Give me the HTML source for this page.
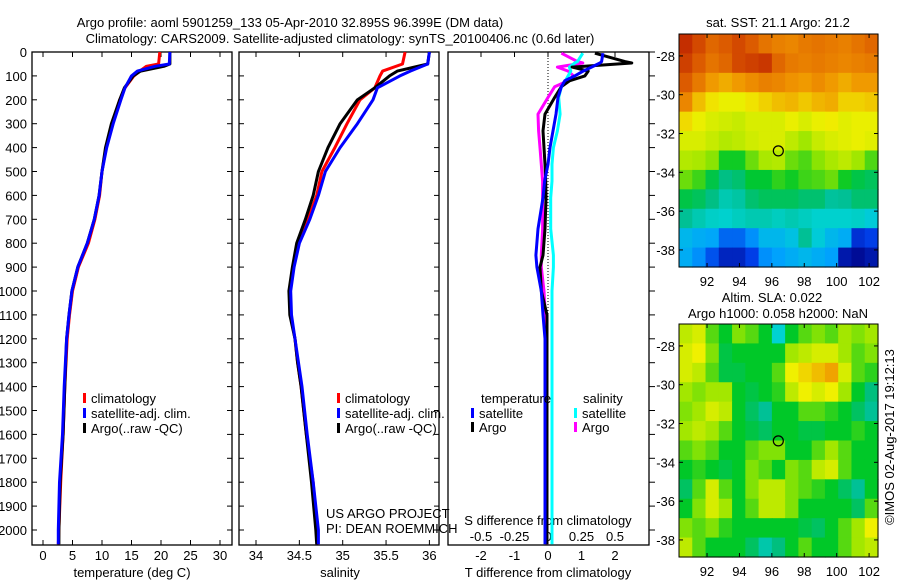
<!DOCTYPE html>
<html><head><meta charset="utf-8"><style>
html,body{margin:0;padding:0;background:#fff;}
svg{display:block;font-family:"Liberation Sans",sans-serif;}
text{font-size:13px;fill:#000;}
</style></head><body>
<svg id="fig" width="900" height="580" xmlns="http://www.w3.org/2000/svg">
<defs>
<clipPath id="c1"><rect x="32" y="52" width="200" height="493"/></clipPath>
<clipPath id="c2"><rect x="239" y="52" width="200" height="493"/></clipPath>
<clipPath id="c3"><rect x="448" y="52" width="201" height="493"/></clipPath>
</defs>
<text x="290" y="27" text-anchor="middle">Argo profile: aoml 5901259_133 05-Apr-2010 32.895S 96.399E (DM data)</text>
<text x="340" y="43" text-anchor="middle">Climatology: CARS2009. Satellite-adjusted climatology: synTS_20100406.nc (0.6d later)</text>
<g id="g1"></g>
<g id="g2"></g>
<g id="g3"></g>
<g id="m1"></g>
<g id="m2"></g>
</svg>
<script>
// ---- profile data ----
const tDepth = [0,50,60,80,100,150,200,300,400,500,600,700,800,900,1000,1100,1200,1400,1600,1800,2000,2060];
const tClim  = [19.8,19.6,17.5,16.4,15.4,13.9,13.0,11.7,10.7,10.0,9.6,8.8,7.7,6.0,5.0,4.5,4.1,3.7,3.4,3.0,2.7,2.6];
const tSat   = [21.5,21.4,19.0,16.0,15.0,13.9,13.2,11.9,10.8,10.0,9.5,8.7,7.5,5.9,4.9,4.4,4.0,3.6,3.3,2.8,2.6,2.6];
const tArgo  = [21.5,21.5,20.5,16.5,15.3,13.8,13.0,11.6,10.6,10.0,9.5,8.7,7.5,5.9,4.9,4.4,4.0,3.7,3.4,2.9,2.7,2.7];
const sDepth = [0,50,80,100,150,200,300,400,500,600,700,800,900,1000,1100,1200,1300,1400,1600,1800,2000,2060];
const sClim  = [35.72,35.69,35.46,35.43,35.37,35.20,35.05,34.91,34.76,34.70,34.60,34.48,34.43,34.39,34.40,34.45,34.48,34.52,34.58,34.66,34.70,34.71];
const sSat   = [36.00,35.98,35.78,35.66,35.40,35.35,35.17,34.97,34.80,34.72,34.62,34.50,34.44,34.40,34.41,34.45,34.49,34.53,34.59,34.66,34.72,34.72];
const sArgo  = [36.00,35.98,35.63,35.54,35.37,35.17,34.97,34.83,34.72,34.66,34.57,34.47,34.42,34.38,34.39,34.45,34.48,34.52,34.58,34.64,34.69,34.70];
const dDepth = [5,40,46,63,80,100,120,145,190,260,330,400,470,540,610,740,850,900,1000,1100,1200,1500,2000,2060];
const dTSat  = [1.64,1.6,1.55,1.3,1.05,0.8,0.5,0.4,0.3,0.24,0.15,0.06,0.0,-0.1,-0.15,-0.3,-0.36,-0.33,-0.2,-0.15,-0.09,-0.09,-0.09,-0.09];
const dTArgo = [1.4,2.3,2.5,0.72,1.2,1.1,0.65,0.4,0.2,-0.09,-0.15,-0.12,-0.09,-0.07,-0.06,-0.09,-0.15,-0.24,-0.2,-0.03,-0.03,-0.03,-0.03,-0.03];
const dSSat  = [0.26,0.22,0.2,0.16,0.17,0.15,0.13,0.1,0.08,0.09,0.07,0.04,0.03,0.03,0.02,0.02,0.04,0.04,0.03,0.03,0.03,0.03,0.03,0.03];
const dSArgo = [0.1,0.22,0.26,0.07,0.15,0.19,0.15,0.05,0.0,-0.075,-0.07,-0.06,-0.05,-0.04,-0.04,-0.04,-0.05,-0.05,-0.03,-0.02,-0.02,-0.01,-0.01,-0.01];
const depthTicks = [0,100,200,300,400,500,600,700,800,900,1000,1100,1200,1300,1400,1500,1600,1700,1800,1900,2000];
const tTicks = [0,5,10,15,20,25,30];
const sTicks = [34,34.5,35,35.5,36];
const sTickLabels = ["34","34.5","35","35.5","36"];
const dtTicks = [-2,-1,0,1,2];
const dsTicks = [-0.5,-0.25,0,0.25,0.5];
// ---- map data ----
const lonTicks = [92,94,96,98,100,102];
const latTicks = [-28,-30,-32,-34,-36,-38];
const sstGrid = [
[23.5,23.2,22.8,23,23.2,23,22.6,22.4,22.3,22.5,22.6,22.5,22.4,22.6,22.8],
[23.3,23,22.6,22.8,23.2,23.3,23.4,22.8,22.5,22.4,22.5,22.4,22.3,22.4,22.5],
[23,22.5,22,21.8,22,22.2,22.4,22.3,22.1,22,22.2,22,21.8,22,22],
[22.3,21.6,21.2,21,21,21.2,21.4,21.6,21.7,21.5,21.7,21.8,21.4,21.4,21.5],
[21.3,21,20.8,20.7,20.6,20.8,20.8,20.8,21,20.8,21,21.1,20.9,21,21],
[20.8,20.8,20.6,20.4,20.5,20.7,20.8,20.8,20.5,20.2,20.6,20.8,20.9,21,20.9],
[20.4,20.3,20,19.2,19.2,19.8,20.3,20.4,19.8,19.6,20,20.3,20.5,20.2,19.6],
[19.8,19.5,18.8,18.2,18.4,19,19,19.4,19.2,19.5,19.6,19.8,19.2,18.8,18.6],
[18.8,18.6,18.2,17.6,17.8,18.4,18.6,18.6,18.6,18.4,18.4,17.9,18,18.4,18.4],
[18,17.6,17.3,17.2,17.4,17.6,17.6,17.4,17.6,17.4,17.2,17.2,17.2,17.3,17],
[16.6,16.4,16.3,15.6,15.6,16,16.6,16.6,16.8,18,17,16.6,16.4,15,15.2],
[16.4,16,15.4,14.8,14.8,15.2,16,16.2,16.4,16.6,16.4,16.2,14.6,14.4,14.6]];
const slaGrid = [
[0.05,0.06,0.02,0.0,0.03,0.02,0.0,-0.07,0.0,0.02,0.03,0.02,0.04,0.03,0.04],
[0.06,0.07,0.03,-0.01,0.0,0.0,0.0,0.0,0.04,0.05,0.06,0.06,0.04,0.02,0.03],
[0.06,0.05,0.02,-0.01,-0.01,0.0,0.0,0.02,0.07,0.08,0.09,0.1,0.06,0.02,0.01],
[0.04,0.03,0.04,0.04,0.0,-0.01,0.0,0.01,0.05,0.07,0.06,0.07,0.04,0.0,-0.03],
[0.03,0.04,0.06,0.05,0.0,-0.02,-0.04,0.0,0.0,0.02,0.02,0.01,0.0,-0.02,-0.04],
[0.04,0.05,0.04,0.02,0.0,-0.01,-0.02,0.0,0.0,-0.01,-0.01,0.0,0.0,0.01,0.0],
[0.02,0.03,0.02,0.0,0.0,0.02,0.03,0.03,0.0,0.0,0.02,0.04,0.02,0.0,0.0],
[0.0,0.01,0.0,-0.01,0.0,0.03,0.02,0.0,0.03,0.02,0.05,0.06,0.02,0.0,0.0],
[-0.02,0.02,0.06,0.02,0.0,0.03,0.05,0.05,0.03,0.02,0.01,0.0,-0.02,-0.04,0.0],
[0.0,0.03,0.06,0.04,0.0,0.02,0.05,0.05,0.03,0.0,0.0,0.0,0.0,-0.02,0.02],
[0.03,0.02,0.03,0.01,0.0,0.0,0.0,0.0,0.0,-0.01,-0.02,0.0,0.02,0.04,0.07],
[0.05,0.02,0.0,0.0,0.0,-0.02,-0.05,-0.03,0.0,0.02,0.0,0.0,0.02,0.04,0.05]];
const floatLon = 96.399, floatLat = -32.895;

const NS="http://www.w3.org/2000/svg";
function mk(parent, tag, attrs, txt){const e=document.createElementNS(NS,tag);for(const k in attrs)e.setAttribute(k,attrs[k]);if(txt!==undefined)e.textContent=txt;parent.appendChild(e);return e;}
const TOP=52, BOT=545;
const yD = d => 52 + d*0.239;
const xT = t => 43 + t*5.9;
const xS = s => 256 + (s-34)*86.7;
const xdT = v => 548 + v*33.5;
const xdS = v => 548 + v*134;

function frame(g, x0, x1){
  const r=mk(g,'rect',{x:x0,y:TOP,width:x1-x0,height:BOT-TOP,fill:'none',stroke:'#000','stroke-width':1.3});
  
  
  depthTicks.forEach(d=>{const y=yD(d);
    mk(g,'line',{x1:x0,x2:x0+5,y1:y,y2:y,stroke:'#000'});
    mk(g,'line',{x1:x1,x2:x1-5,y1:y,y2:y,stroke:'#000'});});
}
function line(g, clip, xs, ys, fx, color, name){
  const pts = xs.map((v,i)=>fx(v).toFixed(1)+','+yD(ys[i]).toFixed(1)).join(' ');
  const p=mk(g,'polyline',{points:pts,fill:'none',stroke:color,'stroke-width':3,'clip-path':'url(#'+clip+')','stroke-linejoin':'round'});
  
  
}
function legend(g, x, y, color, label, name){
  mk(g,'rect',{x:x,y:y-5,width:3,height:10,fill:color});
  const t=mk(g,'text',{x:x+8,y:y+5},label);
  
  
}
// Panel 1
const g1=document.getElementById('g1');
frame(g1,32,232);
depthTicks.forEach(d=>{const t=mk(g1,'text',{x:27,y:yD(d)+5,'text-anchor':'end'},String(d));
  
  });
tTicks.forEach(v=>{const x=xT(v);mk(g1,'line',{x1:x,x2:x,y1:BOT,y2:BOT-5,stroke:'#000'});mk(g1,'line',{x1:x,x2:x,y1:TOP,y2:TOP+5,stroke:'#000'});
  const t=mk(g1,'text',{x:x,y:560,'text-anchor':'middle'},String(v));
  
  });
mk(g1,'text',{x:132,y:577,'text-anchor':'middle',},'temperature (deg C)');
line(g1,'c1',tClim,tDepth,xT,'#f00','temp-climatology-line');
line(g1,'c1',tArgo,tDepth,xT,'#000','temp-argo-line');
line(g1,'c1',tSat,tDepth,xT,'#00f','temp-satellite-line');
legend(g1,83,398,'#f00','climatology','legend-climatology');
legend(g1,83,413,'#00f','satellite-adj. clim.','legend-satellite');
legend(g1,83,428,'#000','Argo(..raw -QC)','legend-argo');
// Panel 2
const g2=document.getElementById('g2');
frame(g2,239,439);
sTicks.forEach((v,i)=>{const x=xS(v);mk(g2,'line',{x1:x,x2:x,y1:BOT,y2:BOT-5,stroke:'#000'});mk(g2,'line',{x1:x,x2:x,y1:TOP,y2:TOP+5,stroke:'#000'});
  const t=mk(g2,'text',{x:x,y:560,'text-anchor':'middle'},sTickLabels[i]);
  
  });
mk(g2,'text',{x:340,y:577,'text-anchor':'middle',},'salinity');
line(g2,'c2',sClim,sDepth,xS,'#f00','sal-climatology-line');
line(g2,'c2',sArgo,sDepth,xS,'#000','sal-argo-line');
line(g2,'c2',sSat,sDepth,xS,'#00f','sal-satellite-line');
legend(g2,337,398,'#f00','climatology','legend-climatology-2');
legend(g2,337,413,'#00f','satellite-adj. clim.','legend-satellite-2');
legend(g2,337,428,'#000','Argo(..raw -QC)','legend-argo-2');
mk(g2,'text',{x:326,y:518,},'US ARGO PROJECT');
mk(g2,'text',{x:326,y:533,},'PI: DEAN ROEMMICH');
// Panel 3
const g3=document.getElementById('g3');
mk(g3,'rect',{x:448,y:TOP,width:201,height:BOT-TOP,fill:'none',stroke:'#000','stroke-width':1.3});
depthTicks.forEach(d=>{const y=yD(d);mk(g3,'line',{x1:649,x2:655,y1:y,y2:y,stroke:'#000'});});
dtTicks.forEach(v=>{const x=xdT(v);mk(g3,'line',{x1:x,x2:x,y1:TOP,y2:TOP+5,stroke:'#000'});
  const t=mk(g3,'text',{x:x,y:560,'text-anchor':'middle'},String(v));
  
  });
dsTicks.forEach(v=>{const t=mk(g3,'text',{x:xdS(v),y:541,'text-anchor':'middle'},String(v));
  
  });
mk(g3,'line',{x1:548,x2:548,y1:TOP,y2:400,stroke:'#000','stroke-dasharray':'1,2'});
mk(g3,'text',{x:548,y:525,'text-anchor':'middle',},'S difference from climatology');
mk(g3,'text',{x:548,y:577,'text-anchor':'middle',},'T difference from climatology');
line(g3,'c3',dSArgo,dDepth,xdS,'#f0f','sdiff-argo-line');
line(g3,'c3',dSSat,dDepth,xdS,'#0ff','sdiff-satellite-line');
line(g3,'c3',dTArgo,dDepth,xdT,'#000','tdiff-argo-line');
line(g3,'c3',dTSat,dDepth,xdT,'#00f','tdiff-satellite-line');
mk(g3,'text',{x:481,y:403,},'temperature');
mk(g3,'text',{x:583,y:403,},'salinity');
legend(g3,471,413,'#00f','satellite','legend-t-satellite');
legend(g3,471,427,'#000','Argo','legend-t-argo');
legend(g3,574,413,'#0ff','satellite','legend-s-satellite');
legend(g3,574,427,'#f0f','Argo','legend-s-argo');
// Maps
const cmapStops=[[0,0,130],[0,60,230],[0,160,255],[0,210,210],[0,190,140],[0,200,40],[150,230,0],[240,240,0],[240,150,0],[220,90,0],[170,0,0]];
function cmap(t){t=Math.max(0,Math.min(1,t));const f=t*(cmapStops.length-1);const i=Math.min(cmapStops.length-2,Math.floor(f));const u=f-i;
  const a=cmapStops[i],b=cmapStops[i+1];return 'rgb('+[0,1,2].map(k=>Math.round(a[k]+(b[k]-a[k])*u)).join(',')+')';}
const LON0=90.27, LON1=102.55, LAT0=-26.87, LAT1=-38.88;
function drawMap(gid, y0, y1, grid, vmin, vmax, titles){
  const g=document.getElementById(gid);
  const x0=679, x1=878;
  const xL = lon => x0 + (lon-LON0)/(LON1-LON0)*(x1-x0);
  const yL = lat => y0 + (lat-LAT0)/(LAT1-LAT0)*(y1-y0);
  const nr=grid.length, nc=grid[0].length;
  const dlon=(LON1-LON0)/nc, dlat=(LAT1-LAT0)/nr;
  grid.forEach((row,r)=>row.forEach((v,c)=>{
    const xa=xL(LON0+c*dlon), xb=xL(LON0+(c+1)*dlon), ya=yL(LAT0+r*dlat), yb=yL(LAT0+(r+1)*dlat);
    const cell=mk(g,'rect',{x:xa.toFixed(2),y:ya.toFixed(2),width:(xb-xa+0.6).toFixed(2),height:(yb-ya+0.6).toFixed(2),fill:cmap((v-vmin)/(vmax-vmin))});
    
    
  }));
  mk(g,'rect',{x:x0,y:y0,width:x1-x0,height:y1-y0,fill:'none',stroke:'#000','stroke-width':1});
  lonTicks.forEach(l=>{const x=xL(l);mk(g,'line',{x1:x,x2:x,y1:y1,y2:y1-4,stroke:'#000'});mk(g,'line',{x1:x,x2:x,y1:y0,y2:y0+4,stroke:'#000'});
    const t=mk(g,'text',{x:x,y:y1+19,'text-anchor':'middle'},String(l));
    
    });
  latTicks.forEach(l=>{const y=yL(l);mk(g,'line',{x1:x0,x2:x0+4,y1:y,y2:y,stroke:'#000'});mk(g,'line',{x1:x1,x2:x1-4,y1:y,y2:y,stroke:'#000'});
    const t=mk(g,'text',{x:x0-4,y:y+5,'text-anchor':'end'},String(l));
    
    });
  const m=mk(g,'circle',{cx:xL(floatLon),cy:yL(floatLat),r:5,fill:'none',stroke:'#000','stroke-width':1.2});
  
  
  titles.forEach(tt=>{const t=mk(g,'text',{x:tt[0],y:tt[1],'text-anchor':'middle'},tt[2]);
    
    });
}
drawMap('m1',34,267,sstGrid,14.2,24.0,[[778,27,'sat. SST: 21.1  Argo: 21.2']]);
drawMap('m2',324,557,slaGrid,-0.175,0.175,[[772,302,'Altim. SLA: 0.022'],[778,318,'Argo h1000: 0.058 h2000: NaN']]);
mk(document.getElementById('m2'),'text',{x:0,y:0,transform:'translate(894,437) rotate(-90)','text-anchor':'middle',},'\u00A9IMOS 02-Aug-2017 19:12:13');
</script>
</body></html>
